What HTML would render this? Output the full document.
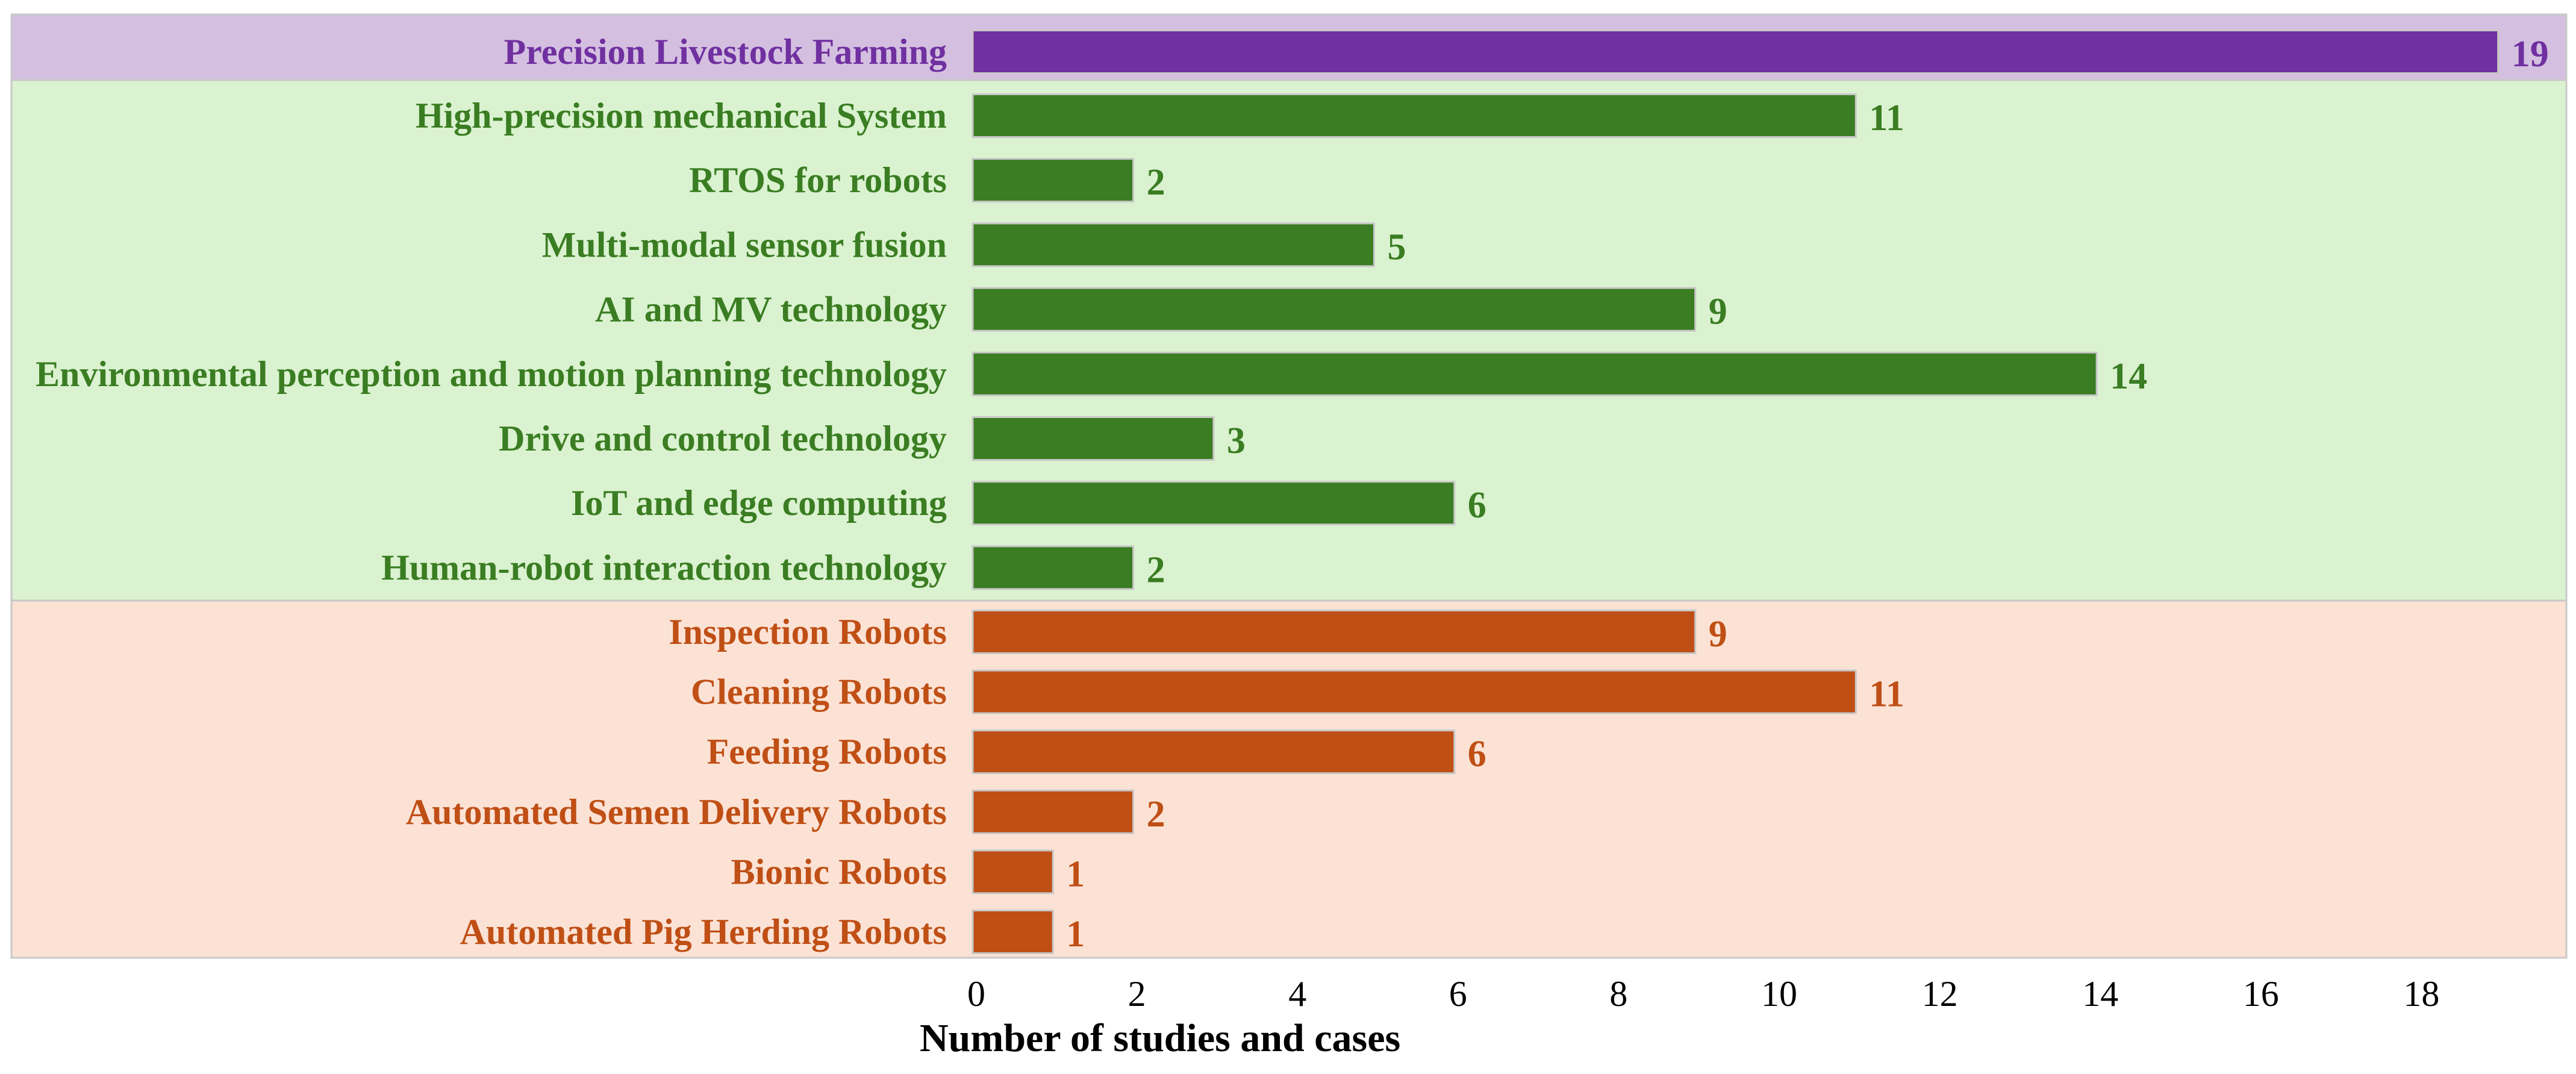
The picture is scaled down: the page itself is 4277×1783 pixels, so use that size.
<!DOCTYPE html>
<html><head><meta charset="utf-8">
<style>
html,body{margin:0;padding:0;background:#fff;}
svg{display:block;}
text{font-family:"Liberation Serif","DejaVu Serif",serif;}
</style></head>
<body>
<svg id="chart" width="4277" height="1783" viewBox="0 0 4277 1783" xmlns="http://www.w3.org/2000/svg">
<rect x="19" y="24" width="4242" height="109" fill="#d4bfe0" stroke="#c8c8c8" stroke-width="3"/>
<rect x="19" y="133" width="4242" height="864" fill="#daf2d0" stroke="#c8c8c8" stroke-width="3"/>
<rect x="19" y="997" width="4242" height="593" fill="#fbe2d5" stroke="#c8c8c8" stroke-width="3"/>
<g id="marks"></g>
<g id="xaxis"></g>
<text x="1527" y="1745" font-size="66" font-weight="bold" fill="#000">Number of studies and cases</text>
</svg>
<script>
const topCategories = ["Precision Livestock Farming"];
const topValues = [19];
const techCategories = ["High-precision mechanical System","RTOS for robots","Multi-modal sensor fusion","AI and MV technology","Environmental perception and motion planning technology","Drive and control technology","IoT and edge computing","Human-robot interaction technology"];
const techValues = [11,2,5,9,14,3,6,2];
const robotCategories = ["Inspection Robots","Cleaning Robots","Feeding Robots","Automated Semen Delivery Robots","Bionic Robots","Automated Pig Herding Robots"];
const robotValues = [9,11,6,2,1,1];
const tickValues = [0,2,4,6,8,10,12,14,16,18];

const NS = "http://www.w3.org/2000/svg";
const x0 = 1615, unit = 133.3;
function xScale(v){ return x0 + v*unit; }
function el(tag, attrs, parent){
  const e = document.createElementNS(NS, tag);
  for (const k in attrs) e.setAttribute(k, attrs[k]);
  parent.appendChild(e);
  return e;
}
const marks = document.getElementById('marks');
function drawGroup(cats, vals, top, step, barColor, textColor, key){
  const barH = 71;
  cats.forEach((c,i)=>{
    const cy = top + i*step;
    const r = el('rect', {x:xScale(0), y:cy-barH/2, width:xScale(vals[i])-xScale(0), height:barH, fill:barColor, stroke:'#c8c8c8', 'stroke-width':3}, marks);
    
    
    const t = el('text', {x:1572, y:cy+20, 'text-anchor':'end', 'font-size':60, 'font-weight':'bold', fill:textColor}, marks);
    t.textContent = c;
    
    
    const v = el('text', {x:xScale(vals[i])+22, y:cy+24, 'font-size':62, 'font-weight':'bold', fill:textColor}, marks);
    v.textContent = vals[i];
    
    
  });
}
drawGroup(topCategories, topValues, 86, 0, '#7030a0', '#7030a0', 'plf');
drawGroup(techCategories, techValues, 192, 107.2, '#3a7d22', '#3a7d22', 'tech');
drawGroup(robotCategories, robotValues, 1049, 99.6, '#c04f15', '#c04f15', 'robot');

const xaxis = document.getElementById('xaxis');
tickValues.forEach((t)=>{
  const tx = el('text', {x:xScale(t)+6, y:1670, 'text-anchor':'middle', 'font-size':60, fill:'#000'}, xaxis);
  tx.textContent = t;
  
  
});
</script>
</body></html>
